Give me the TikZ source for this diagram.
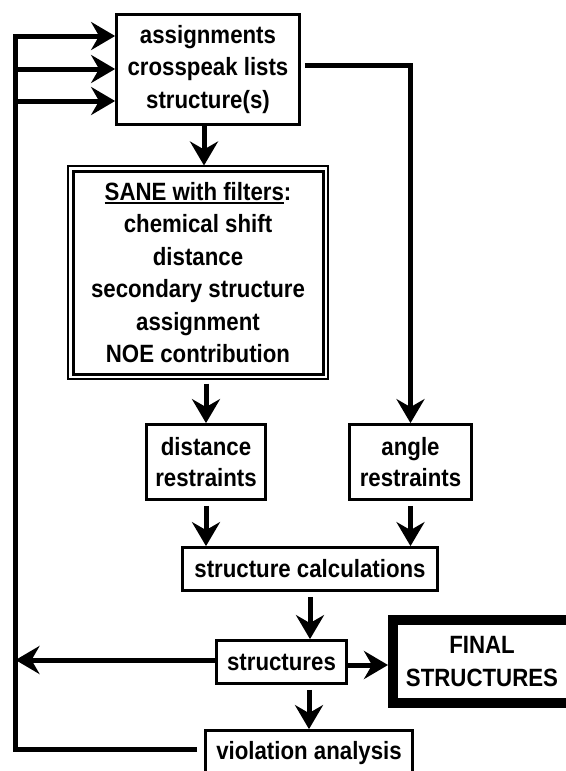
\documentclass[tikz,border=0pt]{standalone}
\usepackage{fontspec}
\newfontfamily\flowfont{Liberation Sans}[FakeStretch=0.89]
\usetikzlibrary{arrows.meta}

\newcommand{\thickul}[1]{\setbox0\hbox{#1}\rlap{\rule[-3.5pt]{\wd0}{1.8pt}}\box0}

\tikzset{
  stage/.style={draw, line width=2.8pt, inner sep=0pt, align=center,
    font=\flowfont\bfseries\fontsize{25}{32.5}\selectfont},
  tight/.style={font=\flowfont\bfseries\fontsize{25}{30.5}\selectfont},
  flow/.style={line width=5pt, -{Stealth[length=24pt,width=28pt,inset=8pt]}},
  feedback/.style={line width=5pt}
}

\begin{document}
\begin{tikzpicture}[x=1pt,y=-1pt]
\useasboundingbox (0,0) rectangle (565,771);

% boxes
\node[stage, minimum width=183pt, minimum height=110pt] (input) at (208,69.5)
  {assignments\\crosspeak lists\\structure(s)};
\node[stage, line width=3pt, minimum width=250pt, minimum height=203pt] (sane) at (198,272.5)
  {\thickul{SANE with filters}:\\chemical shift\\distance\\secondary structure\\assignment\\NOE contribution};
\draw[line width=1.3pt] ([shift={(-3.5pt,-3.5pt)}]sane.south west) rectangle ([shift={(3.5pt,3.5pt)}]sane.north east);
\node[stage, tight, minimum width=119pt, minimum height=75pt] (dist) at (206,462) {distance\\restraints};
\node[stage, tight, minimum width=122pt, minimum height=75pt] (angle) at (410.5,462) {angle\\restraints};
\node[stage, minimum width=255pt, minimum height=43pt] (calc) at (310,569) {structure calculations};
\node[stage, minimum width=130pt, minimum height=43pt] (strs) at (281.5,662) {structures};
\node[stage, line width=10pt, minimum width=178pt, minimum height=83pt] (final) at (482,661.5) {FINAL\\STRUCTURES};
\node[stage, minimum width=207pt, minimum height=45pt] (viol) at (309,753) {violation analysis};

% feedback loop
\coordinate (lt) at (15.5,33.5);
\draw[feedback] ([xshift=-7pt,yshift=4pt]viol.west) -| (lt);
\foreach \y [count=\i] in {36,69,101}
{   \coordinate (in\i) at (15.5,\y);
    \draw[flow] (in\i) -- (in\i -| input.west);
}

% main flow
\coordinate (dn) at ([xshift=-4pt]input.south);
\coordinate (saneout) at ([yshift=4pt]sane.north);
\coordinate (saneb) at ([yshift=-8pt]sane.south);
\coordinate (strsb) at ([yshift=-5pt]strs.south);
\coordinate (fin) at ([yshift=-3pt]strs.east);
\coordinate (back) at ([yshift=2pt]strs.west);
\draw[flow] ([xshift=4pt,yshift=4.5pt]input.east) -| (angle.north);
\draw[flow] (dn) -- (dn |- saneout);
\draw[flow] (saneb -| dist) -- (dist.north);
\draw[flow] ([yshift=-5pt]dist.south) -- (dist |- calc.north);
\draw[flow] ([yshift=-5pt]angle.south) -- (angle |- calc.north);
\draw[flow] ([yshift=-5pt]calc.south) -- (calc |- strs.north);
\draw[flow] (strsb -| viol) -- (viol.north);
\draw[flow] (fin) -- (fin -| final.west);
\draw[flow] (back) -- (back -| lt);
\end{tikzpicture}
\end{document}
